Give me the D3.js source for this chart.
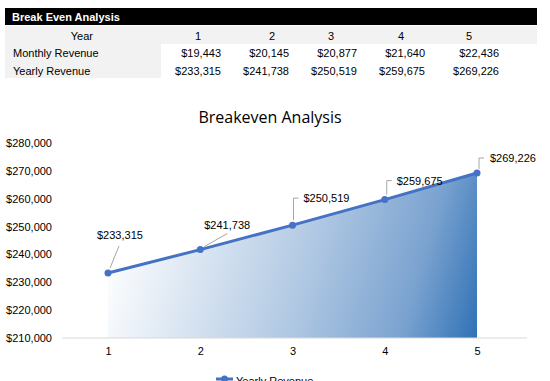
<!DOCTYPE html>
<html>
<head>
<meta charset="utf-8">
<script src="https://cdn.jsdelivr.net/npm/d3@7"></script>
<style>
  body { margin: 0; background: #fff; }
  svg { display: block; }
</style>
</head>
<body>
<svg id="chart" width="550" height="381"></svg>
<script>
// table + chart data
var years = [1, 2, 3, 4, 5];
var monthly_revenue = [19443, 20145, 20877, 21640, 22436];
var yearly_revenue = [233315, 241738, 250519, 259675, 269226];
var y_ticks = [210000, 220000, 230000, 240000, 250000, 260000, 270000, 280000];

var width = 550, height = 381;
var svg = d3.select("#chart");
var fmt = d3.format("$,.0f");

// ---- table at the top ----
var tableFont = "'Liberation Sans', Arial, sans-serif";
var col_right = [221, 289, 357, 425, 499];   // right edge of each value column
var col_head = [198, 272, 331, 401, 469];    // header x (centre)

svg.append("rect").attr("x", 5).attr("y", 8).attr("width", 532).attr("height", 17).attr("fill", "#000");
svg.append("text").attr("x", 12).attr("y", 21)
    .style("font-family", tableFont).style("font-size", "11px").style("font-weight", "bold")
    .attr("fill", "#fff").text("Break Even Analysis");

svg.append("rect").attr("x", 5).attr("y", 26).attr("width", 532).attr("height", 18).attr("fill", "#f2f2f2");
svg.append("rect").attr("x", 5).attr("y", 44).attr("width", 156).attr("height", 34).attr("fill", "#f2f2f2");

function cell(x, y, txt, anchor) {
    svg.append("text").attr("x", x).attr("y", y)
        .attr("text-anchor", anchor || "start")
        .style("font-family", tableFont).style("font-size", "11px")
        .attr("fill", "#000").text(txt);
}
cell(93, 40, "Year", "end");
cell(13, 57, "Monthly Revenue");
cell(13, 75, "Yearly Revenue");
years.forEach(function(d, i) {
    cell(col_head[i], 40, d, "middle");
    cell(col_right[i], 57, fmt(monthly_revenue[i]), "end");
    cell(col_right[i], 75, fmt(yearly_revenue[i]), "end");
});

// ---- chart ----
var chartFont = "'Liberation Sans', Arial, sans-serif";
var data = years.map(function(d, i) { return {year: d, value: yearly_revenue[i]}; });

var x = d3.scalePoint().domain(years).range([108, 477]);
var y = d3.scaleLinear().domain([210000, 280000]).range([338, 143]);

svg.append("text").attr("x", 270).attr("y", 123)
    .attr("text-anchor", "middle")
    .style("font-family", "'Open Sans', 'Noto Sans', sans-serif").style("font-size", "16px")
    .attr("fill", "#000").text("Breakeven Analysis");

// gradient: near white on the left, deep blue at the bottom right
var defs = svg.append("defs");
var grad = defs.append("linearGradient").attr("id", "areaGrad")
    .attr("gradientUnits", "userSpaceOnUse")
    .attr("x1", x(1)).attr("y1", y(245000))
    .attr("x2", x(5)).attr("y2", y(207500));
grad.append("stop").attr("offset", "0%").attr("stop-color", "#ffffff");
grad.append("stop").attr("offset", "50%").attr("stop-color", "#b3cae4");
grad.append("stop").attr("offset", "80%").attr("stop-color", "#7ba3d0");
grad.append("stop").attr("offset", "100%").attr("stop-color", "#2e70b5");

var area = d3.area().x(function(d) { return x(d.year); })
    .y0(y(210000)).y1(function(d) { return y(d.value); });
svg.append("path").datum(data).attr("d", area).attr("fill", "url(#areaGrad)");

// y axis labels
var yAxis = d3.axisLeft(y).tickValues(y_ticks).tickFormat(fmt).tickSize(0).tickPadding(0);
var gy = svg.append("g").attr("transform", "translate(52,0)").call(yAxis);
gy.select(".domain").remove();
gy.selectAll("text").style("font-family", chartFont).style("font-size", "11px").attr("fill", "#000");

// x axis
var xAxis = d3.axisBottom(x).tickSize(0).tickPadding(9);
var gx = svg.append("g").attr("transform", "translate(0,338)").call(xAxis);
gx.select(".domain").remove();
gx.append("line").attr("x1", 62).attr("x2", 527).attr("stroke", "#d9d9d9").attr("stroke-width", 1);
gx.selectAll("text").style("font-family", chartFont).style("font-size", "11px").attr("fill", "#000");

// line + markers
var line = d3.line().x(function(d) { return x(d.year); }).y(function(d) { return y(d.value); });
svg.append("path").datum(data).attr("d", line)
    .attr("fill", "none").attr("stroke", "#4472c4").attr("stroke-width", 3);
svg.selectAll("circle.pt").data(data).enter().append("circle")
    .attr("class", "pt")
    .attr("cx", function(d) { return x(d.year); })
    .attr("cy", function(d) { return y(d.value); })
    .attr("r", 3.5).attr("fill", "#4472c4");

// data labels with leader lines (offsets relative to the point)
var label_off = [
    {lead: [[2, -5], [11, -27]], tx: -11, ty: -34},
    {lead: [[4, -3], [27, -16]], tx: 4, ty: -21},
    {lead: [[1, -5], [1, -27], [6, -27]], tx: 11, ty: -23},
    {lead: [[2, -5], [2, -19], [7, -19]], tx: 12, ty: -15},
    {lead: [[2, -4], [2, -15], [7, -15]], tx: 13, ty: -11}
];
data.forEach(function(d, i) {
    var px = x(d.year), py = y(d.value), o = label_off[i];
    svg.append("path")
        .attr("d", d3.line()(o.lead.map(function(p) { return [px + p[0], py + p[1]]; })))
        .attr("fill", "none").attr("stroke", "#a6a6a6").attr("stroke-width", 1);
    svg.append("text").attr("x", px + o.tx).attr("y", py + o.ty)
        .style("font-family", chartFont).style("font-size", "11px")
        .attr("fill", "#000").text(fmt(d.value));
});

// legend (cut off at the bottom edge, as in the source)
svg.append("line").attr("x1", 216).attr("x2", 233).attr("y1", 379).attr("y2", 379)
    .attr("stroke", "#4472c4").attr("stroke-width", 3);
svg.append("circle").attr("cx", 224.5).attr("cy", 379).attr("r", 3.5).attr("fill", "#4472c4");
svg.append("text").attr("x", 236).attr("y", 385)
    .style("font-family", chartFont).style("font-size", "11px")
    .attr("fill", "#000").text("Yearly Revenue");
</script>
</body>
</html>
